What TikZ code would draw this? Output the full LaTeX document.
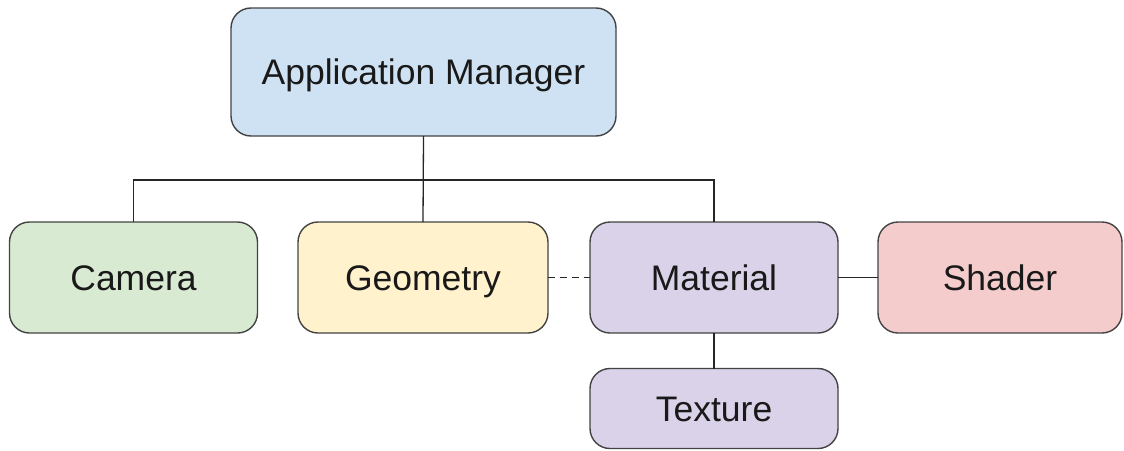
\documentclass[tikz,border=0pt]{standalone}
\usepackage{xcolor}
\usepackage{fontspec}
\setmainfont{Liberation Sans}
\usetikzlibrary{positioning}

\definecolor{mgrblue}{HTML}{CFE2F3}
\definecolor{camgreen}{HTML}{D9EAD3}
\definecolor{geoyellow}{HTML}{FFF2CC}
\definecolor{matpurple}{HTML}{D9D2E9}
\definecolor{shdred}{HTML}{F4CCCC}
\definecolor{edgegray}{HTML}{434343}

\begin{document}
\begin{tikzpicture}[
    x=1pt, y=-1pt,
    block/.style={rectangle, rounded corners=20pt, minimum width=248pt, minimum height=111pt, text centered, text height=30pt, text depth=4.6pt, draw=edgegray, line width=1.4pt, outer sep=0pt, text=black!90, font=\fontsize{35.5}{42}\selectfont},
    link/.style={draw=black!85, line width=1.3pt}
]
\useasboundingbox (0,0) rectangle (1124,450);

% Top level
\node[block, fill=mgrblue, minimum width=385pt, minimum height=128pt] (app) at (423.5,72) {Application Manager};

% Second row
\node[block, fill=camgreen] (camera) at (133.5,277.5) {Camera};
\node[block, fill=geoyellow, minimum width=250pt] (geometry) at (423,277.5) {Geometry};
\node[block, fill=matpurple] (material) at (714,277.5) {Material};
\node[block, fill=shdred, minimum width=244pt] (shader) at (1000,277.5) {Shader};

% Below material
\node[block, fill=matpurple, minimum height=80pt] (texture) at (714,408.5) {Texture};

% Tree lines
\draw[link] (app.south) -- (geometry.north);
\draw[link] (camera.north) -- ++(0,-42) -| (material.north);

% Material links
\draw[link, dashed, dash pattern=on 7pt off 5pt] (geometry.east) -- (material.west);
\draw[link] (material.east) -- (shader.west);
\draw[link] (material.south) -- (texture.north);

\end{tikzpicture}
\end{document}
